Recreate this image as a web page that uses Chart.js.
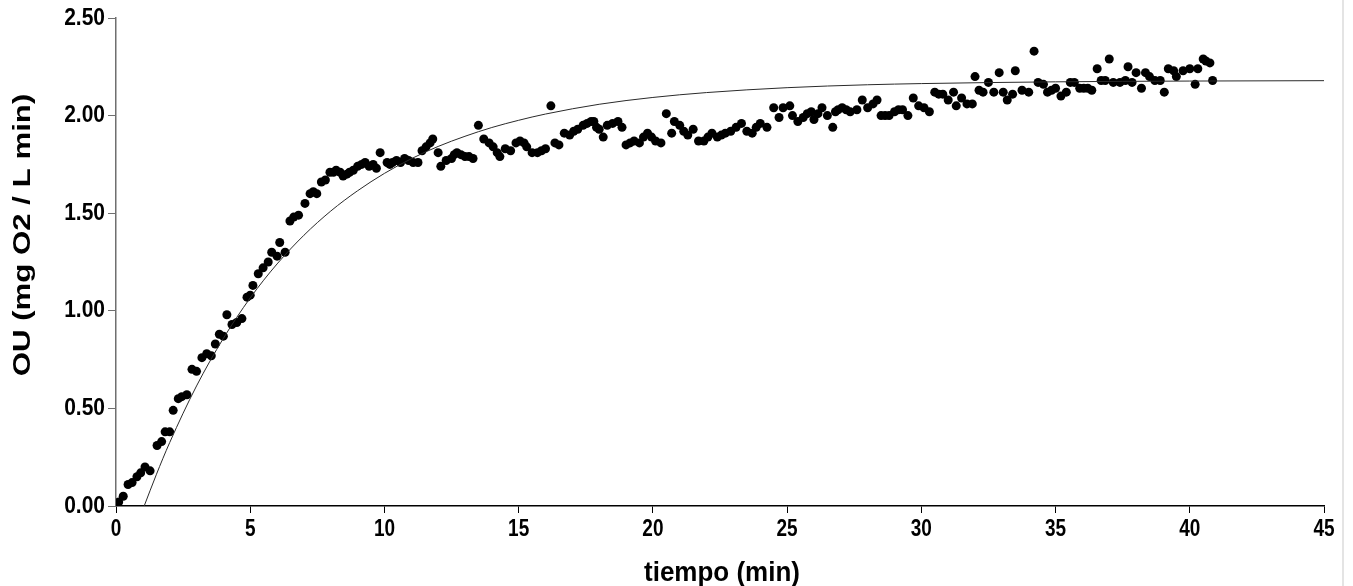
<!DOCTYPE html>
<html lang="es">
<head>
<meta charset="utf-8">
<title>OU vs tiempo</title>
<script src="https://cdn.jsdelivr.net/npm/chart.js@4.4.1/dist/chart.umd.min.js"></script>
<style>
  html, body { margin: 0; padding: 0; background: #fff; }
  #marco { position: relative; width: 1353px; height: 586px; overflow: hidden; }
  /* thin grey edge on the right side of the figure */
  #marco::after { content: ""; position: absolute; left: 1342px; top: 0; width: 2px; height: 586px; background: #e4e4e4; }
</style>
</head>
<body>
<div id="marco"><canvas id="grafico" width="1353" height="586"></canvas></div>
<script>
// Measured oxygen uptake (min, mg O2 / L min)
const tiempo = [
  0.00, 0.10, 0.27, 0.45, 0.60, 0.78, 0.92, 1.08, 1.27, 1.53, 1.70, 1.83, 2.00, 2.13, 2.32, 2.45,
  2.64, 2.83, 3.00, 3.20, 3.38, 3.55, 3.70, 3.85, 4.00, 4.13, 4.32, 4.50, 4.69, 4.88, 5.00, 5.10,
  5.30, 5.48, 5.67, 5.80, 6.00, 6.10, 6.30, 6.48, 6.62, 6.80, 7.04, 7.23, 7.35, 7.48, 7.65, 7.80,
  7.97, 8.10, 8.20, 8.35, 8.46, 8.60, 8.70, 8.84, 9.00, 9.15, 9.28, 9.43, 9.58, 9.70, 9.84, 10.10,
  10.20, 10.30, 10.45, 10.60, 10.75, 10.90, 11.07, 11.25, 11.40, 11.55, 11.70, 11.80, 12.00, 12.10,
  12.30, 12.50, 12.60, 12.70, 12.85, 13.00, 13.15, 13.30, 13.50, 13.70, 13.90, 14.05, 14.20, 14.30,
  14.50, 14.70, 14.90, 15.05, 15.20, 15.30, 15.50, 15.70, 15.85, 16.00, 16.20, 16.35, 16.50, 16.70,
  16.90, 17.05, 17.20, 17.40, 17.55, 17.70, 17.80, 17.90, 18.00, 18.15, 18.30, 18.50, 18.70, 18.85,
  19.00, 19.15, 19.30, 19.50, 19.65, 19.80, 19.95, 20.10, 20.30, 20.50, 20.70, 20.80, 21.00, 21.15,
  21.30, 21.50, 21.70, 21.90, 22.05, 22.20, 22.40, 22.55, 22.70, 22.90, 23.10, 23.30, 23.50, 23.70,
  23.85, 24.00, 24.25, 24.50, 24.70, 24.85, 25.10, 25.20, 25.40, 25.60, 25.75, 25.90, 26.00, 26.15,
  26.30, 26.50, 26.70, 26.80, 26.90, 27.05, 27.20, 27.35, 27.60, 27.80, 28.00, 28.20, 28.35, 28.50,
  28.65, 28.80, 29.00, 29.15, 29.30, 29.50, 29.70, 29.90, 30.10, 30.30, 30.50, 30.65, 30.80, 31.00,
  31.20, 31.30, 31.50, 31.70, 31.90, 32.00, 32.15, 32.30, 32.50, 32.70, 32.90, 33.05, 33.20, 33.40,
  33.50, 33.75, 34.00, 34.20, 34.35, 34.55, 34.70, 34.85, 35.00, 35.20, 35.40, 35.55, 35.70, 35.90,
  36.05, 36.20, 36.35, 36.55, 36.70, 36.85, 37.00, 37.15, 37.40, 37.60, 37.70, 37.85, 38.00, 38.20,
  38.35, 38.50, 38.70, 38.90, 39.05, 39.20, 39.40, 39.50, 39.75, 40.00, 40.20, 40.30, 40.50, 40.60,
  40.75, 40.85
];
const ou = [
  0.00, 0.02, 0.05, 0.11, 0.12, 0.15, 0.17, 0.20, 0.18, 0.31, 0.33, 0.38, 0.38, 0.49, 0.55, 0.56,
  0.57, 0.70, 0.69, 0.76, 0.78, 0.77, 0.83, 0.88, 0.87, 0.98, 0.93, 0.94, 0.96, 1.07, 1.08, 1.13,
  1.19, 1.22, 1.25, 1.30, 1.28, 1.35, 1.30, 1.46, 1.48, 1.49, 1.55, 1.60, 1.61, 1.60, 1.66, 1.67,
  1.71, 1.71, 1.72, 1.71, 1.69, 1.70, 1.71, 1.72, 1.74, 1.75, 1.76, 1.74, 1.75, 1.73, 1.81, 1.76,
  1.75, 1.76, 1.77, 1.76, 1.78, 1.77, 1.76, 1.76, 1.82, 1.84, 1.86, 1.88, 1.81, 1.74,
  1.77, 1.78, 1.80, 1.81, 1.80, 1.79, 1.79, 1.78, 1.95, 1.88, 1.86, 1.84, 1.81, 1.79,
  1.83, 1.82, 1.86, 1.87, 1.86, 1.84, 1.81, 1.81, 1.82, 1.83, 2.05, 1.86, 1.85, 1.91,
  1.90, 1.92, 1.93, 1.95, 1.96, 1.97, 1.97, 1.94, 1.93, 1.89, 1.95, 1.96, 1.97, 1.94,
  1.85, 1.86, 1.87, 1.86, 1.89, 1.91, 1.89, 1.87, 1.86, 2.01, 1.91, 1.97, 1.95, 1.92,
  1.90, 1.93, 1.87, 1.87, 1.89, 1.91, 1.89, 1.90, 1.91, 1.92, 1.94, 1.96, 1.92, 1.91,
  1.94, 1.96, 1.94, 2.04, 1.99, 2.04, 2.05, 2.00, 1.97, 1.99, 2.01, 2.02, 1.98, 2.01,
  2.04, 2.00, 1.94, 2.02, 2.03, 2.04, 2.03, 2.02, 2.03, 2.08, 2.04, 2.06, 2.08, 2.00,
  2.00, 2.00, 2.02, 2.03, 2.03, 2.00, 2.09, 2.05, 2.04, 2.02, 2.12, 2.11, 2.11, 2.08,
  2.12, 2.05, 2.09, 2.06, 2.06, 2.20, 2.13, 2.12, 2.17, 2.12, 2.22, 2.12, 2.08, 2.11,
  2.23, 2.13, 2.12, 2.33, 2.17, 2.16, 2.12, 2.13, 2.14, 2.10, 2.12, 2.17, 2.17, 2.14,
  2.14, 2.14, 2.13, 2.24, 2.18, 2.18, 2.29, 2.17, 2.17, 2.18, 2.25, 2.17, 2.22, 2.14,
  2.22, 2.20, 2.18, 2.18, 2.12, 2.24, 2.23, 2.20, 2.23, 2.24, 2.16, 2.24, 2.29, 2.28,
  2.27, 2.18
];

// Fitted first-order curve
const tiempoAjuste = [1.05, 1.5, 2, 3, 4, 5, 6, 7, 8, 9, 10, 11, 12, 13, 14, 15, 16, 18, 20, 22, 25, 28, 30, 35, 40, 45];
const ouAjuste = [0.00, 0.16, 0.325, 0.615, 0.859, 1.066, 1.240, 1.387, 1.511, 1.615, 1.704, 1.779, 1.842,
  1.894, 1.939, 1.976, 2.008, 2.058, 2.093, 2.118, 2.143, 2.158, 2.164, 2.173, 2.177, 2.179];

const ticksX = [0, 5, 10, 15, 20, 25, 30, 35, 40, 45];
const ticksY = [0, 0.5, 1.0, 1.5, 2.0, 2.5];
const tituloX = "tiempo (min)";
const tituloY = "OU (mg O2 / L min)";

const puntos = tiempo.map((t, i) => ({ x: t, y: ou[i] }));
const curva = tiempoAjuste.map((t, i) => ({ x: t, y: ouAjuste[i] }));

// Labels in the original export are tall and narrow, so they get stretched vertically
const FUENTE = '"Liberation Sans", Arial, sans-serif';

function textoEstirado(ctx, texto, x, y, align, vertical, estira) {
  ctx.save();
  ctx.translate(x, y);
  if (vertical) {
    ctx.rotate(-Math.PI / 2);
    ctx.scale(estira, 1);
  } else {
    ctx.scale(1, estira);
  }
  ctx.textAlign = align;
  ctx.textBaseline = "middle";
  ctx.fillText(texto, 0, 0);
  ctx.restore();
}

const rotulos = {
  id: "rotulos",
  afterDraw(chart) {
    const ctx = chart.ctx;
    const sx = chart.scales.x;
    const sy = chart.scales.y;
    const area = chart.chartArea;
    ctx.fillStyle = "#000";

    ctx.font = "bold 19px " + FUENTE;
    sx.ticks.forEach(t => {
      textoEstirado(ctx, String(t.value), sx.getPixelForValue(t.value), 529, "center", false, 1.25);
    });
    ctx.font = "bold 21px " + FUENTE;
    sy.ticks.forEach(t => {
      textoEstirado(ctx, t.value.toFixed(2), 105, sy.getPixelForValue(t.value), "right", false, 1.15);
    });

    ctx.font = "bold 26px " + FUENTE;
    textoEstirado(ctx, tituloX, (area.left + area.right) / 2 + 2, 573, "center", false, 1.05);
    ctx.font = "bold 24px " + FUENTE;
    textoEstirado(ctx, tituloY, 23, 235, "center", true, 1.3);
  }
};

new Chart(document.getElementById("grafico"), {
  type: "scatter",
  data: {
    datasets: [
      {
        label: "ajuste",
        data: curva,
        showLine: true,
        borderColor: "#2a2a2a",
        borderWidth: 1,
        pointRadius: 0,
        cubicInterpolationMode: "monotone",
        order: 0
      },
      {
        label: "OU",
        data: puntos,
        pointRadius: 4.5,
        pointBackgroundColor: "#000",
        pointBorderWidth: 0,
        order: 1
      }
    ]
  },
  options: {
    responsive: false,
    animation: false,
    layout: { padding: { left: 0, right: 29, top: 18, bottom: 0 } },
    plugins: { legend: { display: false }, tooltip: { enabled: false } },
    scales: {
      x: {
        type: "linear",
        min: 0,
        max: 45,
        afterBuildTicks: s => { s.ticks = ticksX.map(v => ({ value: v })); },
        afterFit: s => { s.height = 80; },
        grid: { drawOnChartArea: false, tickLength: 7, color: "#000", lineWidth: 1 },
        border: { color: "#000", width: 1.5 },
        ticks: { display: false }
      },
      y: {
        type: "linear",
        min: 0,
        max: 2.5,
        afterBuildTicks: s => { s.ticks = ticksY.map(v => ({ value: v })); },
        afterFit: s => { s.width = 116; },
        grid: { drawOnChartArea: false, tickLength: 8, color: "#6f6f6f", lineWidth: 1 },
        border: { color: "#6f6f6f", width: 1.5 },
        ticks: { display: false }
      }
    }
  },
  plugins: [rotulos]
});
</script>
</body>
</html>
